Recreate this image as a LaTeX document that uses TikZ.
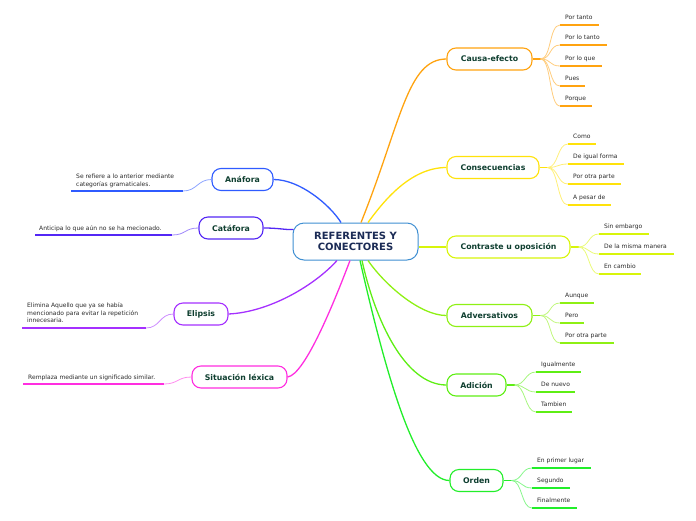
\documentclass[tikz,border=0pt]{standalone}
\usepackage{fontspec}
\setmainfont{DejaVu Sans}
\usetikzlibrary{calc}
\definecolor{corange}{HTML}{FFA310}
\definecolor{cyellow}{HTML}{FFE20A}
\definecolor{cyg}{HTML}{D8F50A}
\definecolor{clg}{HTML}{8EF014}
\definecolor{cgreen}{HTML}{5EEE14}
\definecolor{cgreen2}{HTML}{22EE2A}
\definecolor{cblue}{HTML}{2F5BFF}
\definecolor{cviolet}{HTML}{5327F5}
\definecolor{cpurple}{HTML}{A530FF}
\definecolor{cmag}{HTML}{FF2EE0}
\definecolor{cborder}{HTML}{3F8FD2}
\definecolor{ctitle}{HTML}{1B2B55}
\definecolor{clabel}{HTML}{0F3F30}
\definecolor{ctext}{HTML}{2A2A2A}
\tikzset{
  centerbox/.style={draw=cborder, line width=1pt, fill=white, rounded corners=11pt,
    minimum width=125pt, minimum height=37pt, inner sep=0pt, align=center,
    font=\bfseries\fontsize{10}{11.5}\selectfont, text=ctitle},
  branch/.style={draw=#1, line width=1.1pt, fill=white, rounded corners=9pt,
    minimum height=22pt, inner sep=0pt, font=\bfseries\fontsize{7.8}{9}\selectfont, text=clabel},
  leaf/.style={inner sep=0pt, font=\fontsize{6}{7}\selectfont, text=ctext},
  desc/.style={inner sep=0pt, align=left, font=\fontsize{6}{8}\selectfont, text=ctext},
  mainlink/.style={draw=#1, line width=1.3pt},
  ulink/.style={draw=#1, line width=1.8pt},
  softlink/.style={draw=#1!55, line width=0.8pt}
}
\newcommand\leafset[4]{%
  \draw[draw=#2, line width=1.6pt] (#1.east) -- ++(8,0) coordinate (#1-s);
  \foreach \yy/\xe/\tx [count=\i] in {#4}{
    \coordinate (#1-a\i) at (#3,\yy);
    \coordinate (#1-b\i) at (\xe,\yy);
    \draw[ulink=#2] (#1-a\i) -- (#1-b\i);
    \draw[softlink=#2] (#1-s) .. controls +(11,0) and +(-11,0) .. (#1-a\i);
    \node[leaf, anchor=base west] (#1-t\i) at ($(#1-a\i)+(5,-5.5)$) {\tx};
  }}
\begin{document}
\begin{tikzpicture}[x=1pt,y=-1pt]
\useasboundingbox (0,0) rectangle (696,520);
% center
\node[centerbox] (c) at (355.5,241.5) {REFERENTES Y\\CONECTORES};
% right branches
\node[branch=corange, minimum width=85pt] (ce) at (489.5,59) {Causa-efecto};
\node[branch=cyellow, minimum width=92pt] (co) at (493,167.5) {Consecuencias};
\node[branch=cyg, minimum width=123pt] (ct) at (508.5,247) {Contraste u oposición};
\node[branch=clg, minimum width=85pt] (ad) at (489.5,315.5) {Adversativos};
\node[branch=cgreen, minimum width=59pt] (adi) at (476.5,385) {Adición};
\node[branch=cgreen2, minimum width=53pt] (or) at (476.5,480.5) {Orden};
% left branches
\node[branch=cblue, minimum width=61pt] (an) at (242.5,179.5) {Anáfora};
\node[branch=cviolet, minimum width=64pt] (cat) at (231,228) {Catáfora};
\node[branch=cpurple, minimum width=54pt] (el) at (201,314) {Elipsis};
\node[branch=cmag, minimum width=95pt] (sl) at (239.5,377) {Situación léxica};
% main links
\draw[mainlink=corange] ($(c.north)+(5.5,0)$) .. controls (401,123) and (407,59) .. (ce.west);
\draw[mainlink=cyellow] ($(c.north)+(12.5,0)$) .. controls (383,202) and (410,167.5) .. (co.west);
\draw[mainlink=cyg] ($(c.east)+(0,5.5)$) -- (ct.west);
\draw[mainlink=clg] ($(c.south)+(12.5,0)$) .. controls (385,285) and (420,315.5) .. (ad.west);
\draw[mainlink=cgreen] ($(c.south)+(6.5,0)$) .. controls (375,320) and (405,385) .. (adi.west);
\draw[mainlink=cgreen2] ($(c.south)+(4.5,0)$) .. controls (385,370) and (415,480.5) .. (or.west);
\draw[mainlink=cblue] (an.east) .. controls (300,179.5) and (330,205) .. ($(c.north)+(-14.5,0)$);
\draw[mainlink=cviolet] (cat.east) .. controls (280,228) and (285,230) .. ($(c.west)+(1,-12)$);
\draw[mainlink=cpurple] (el.east) .. controls (270,312) and (315,285) .. ($(c.south)+(-18.5,0)$);
\draw[mainlink=cmag] (sl.east) .. controls (305,375) and (335,300) .. ($(c.south)+(-5.5,0)$);
% leaves
\leafset{ce}{corange}{560}{25/599/Por tanto, 45/607/Por lo tanto, 66/602/Por lo que, 86/585/Pues, 106/592/Porque}
\leafset{co}{cyellow}{568}{144/596/Como, 164/624/De igual forma, 184/621/Por otra parte, 205/611/A pesar de}
\leafset{ct}{cyg}{599}{234/649/Sin embargo, 254/674/De la misma manera, 274/641/En cambio}
\leafset{ad}{clg}{560}{303/594/Aunque, 323/584/Pero, 343/614/Por otra parte}
\leafset{adi}{cgreen}{536}{372/581/Igualmente, 392/575/De nuevo, 412/572/Tambien}
\leafset{or}{cgreen2}{532}{468/591/En primer lugar, 488/570/Segundo, 508/577/Finalmente}
% left descriptions
\coordinate (an-a) at (71,191); \coordinate (an-b) at (183,191);
\draw[ulink=cblue] (an-a) -- (an-b);
\draw[softlink=cblue] (an-b) .. controls +(14,0) and +(-14,0) .. (an.west);
\node[desc, anchor=base west] (an-t) at (76,186) {Se refiere a lo anterior mediante\\categorías gramaticales.};
\coordinate (cat-a) at (35,235); \coordinate (cat-b) at (172,235);
\draw[ulink=cviolet] (cat-a) -- (cat-b);
\draw[softlink=cviolet] (cat-b) .. controls +(14,0) and +(-14,0) .. (cat.west);
\node[leaf, anchor=base west] (cat-t) at (39,230) {Anticipa lo que aún no se ha mecionado.};
\coordinate (el-a) at (22,328); \coordinate (el-b) at (146,328);
\draw[ulink=cpurple] (el-a) -- (el-b);
\draw[softlink=cpurple] (el-b) .. controls +(14,0) and +(-14,0) .. (el.west);
\node[desc, anchor=base west, font=\fontsize{6}{7.7}\selectfont] (el-t) at (27,322.7) {Elimina Aquello que ya se había\\mencionado para evitar la repetición\\innecesaria.};
\coordinate (sl-a) at (23,384); \coordinate (sl-b) at (164,384);
\draw[ulink=cmag] (sl-a) -- (sl-b);
\draw[softlink=cmag] (sl-b) .. controls +(14,0) and +(-14,0) .. (sl.west);
\node[leaf, anchor=base west] (sl-t) at (28,379.3) {Remplaza mediante un significado similar.};
\end{tikzpicture}
\end{document}
